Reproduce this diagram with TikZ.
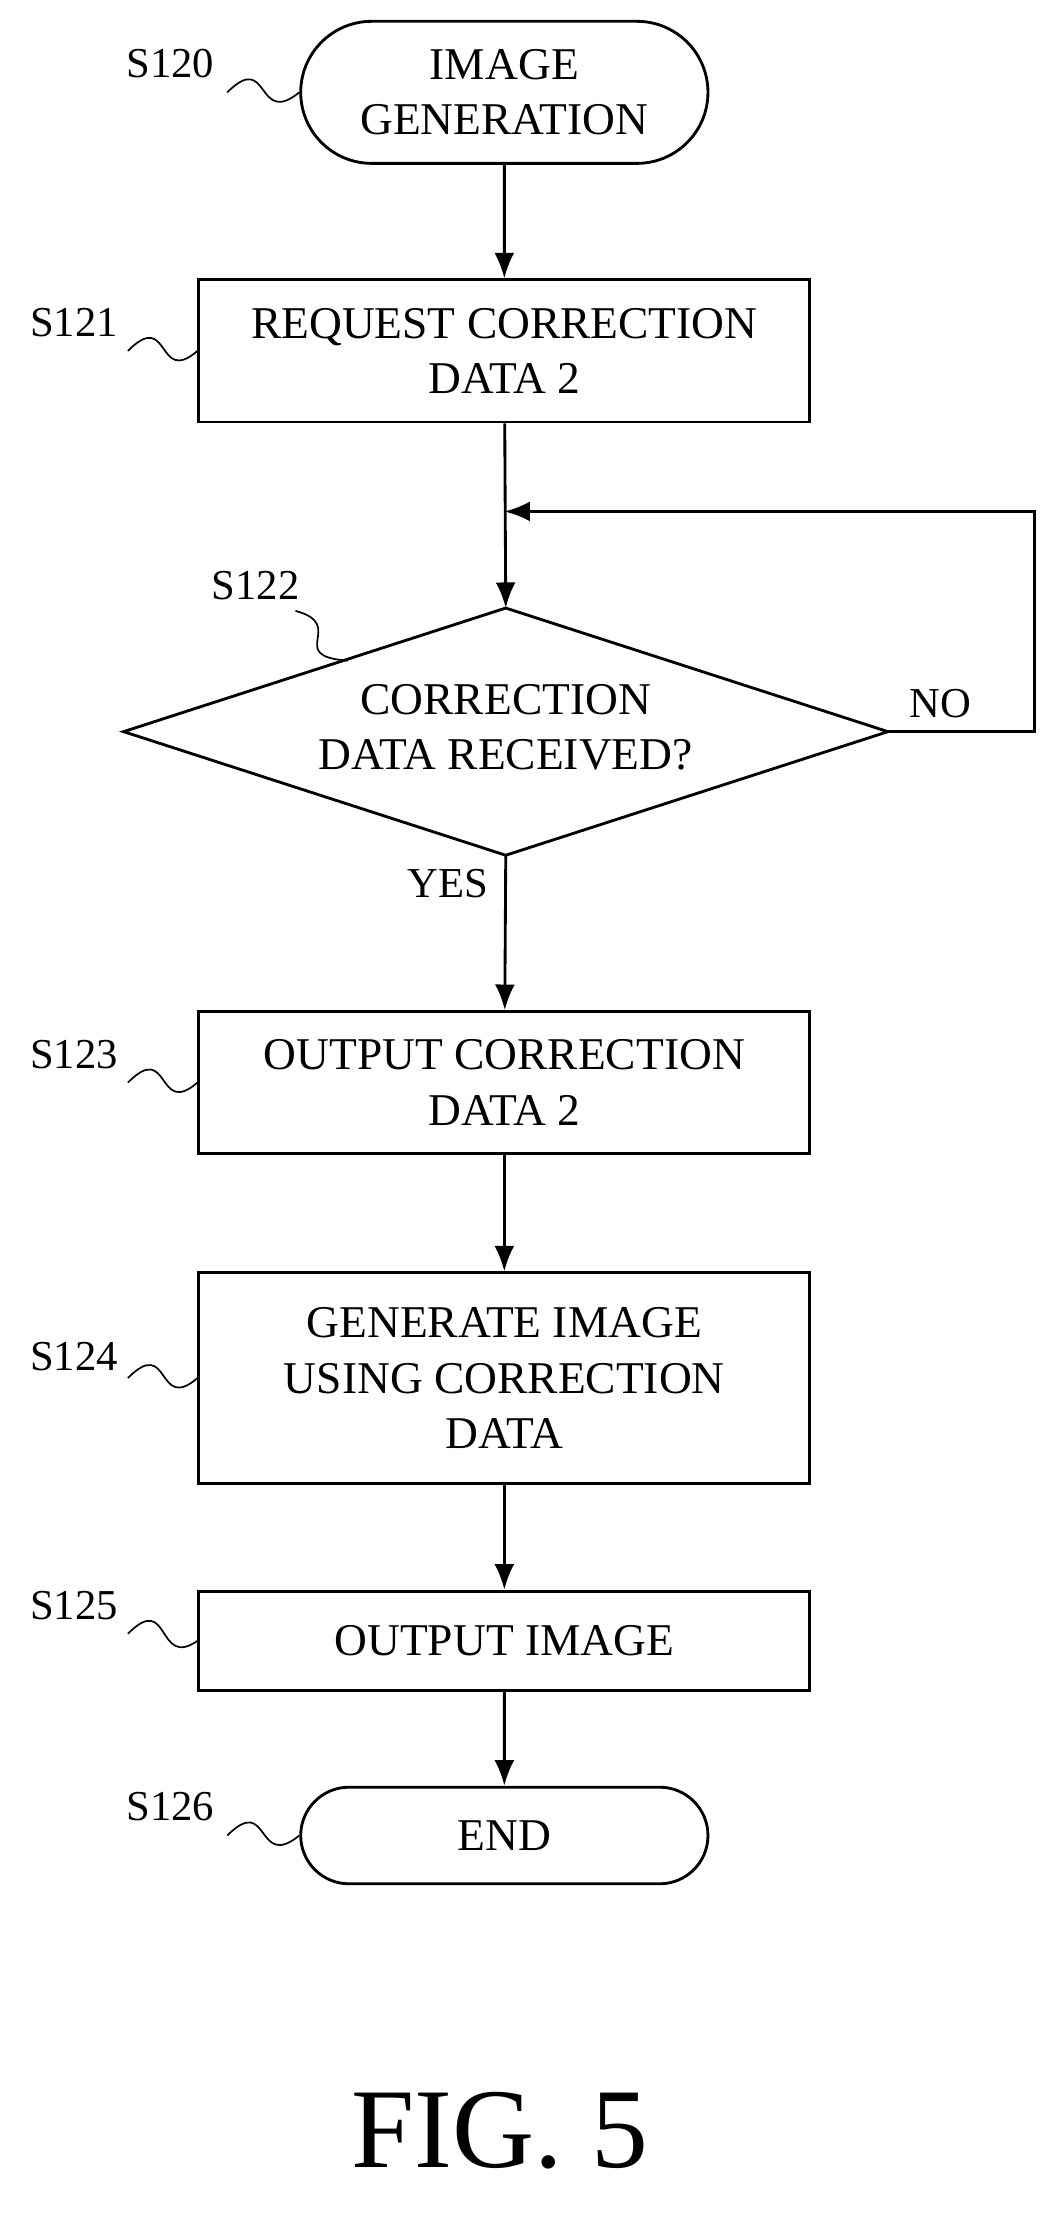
\documentclass[tikz,border=0pt]{standalone}
\usepackage{fontspec}
\setmainfont{Liberation Serif}
\usetikzlibrary{shapes.geometric,shapes.misc,positioning,arrows.meta}
\tikzset{
  proc/.style={draw,line width=1pt,minimum width=215pt,minimum height=50pt,align=center,font=\fontsize{16}{19.5}\selectfont},
  term/.style={draw,line width=1pt,rounded rectangle,minimum width=150pt,minimum height=34pt,align=center,font=\fontsize{16}{19.5}\selectfont},
  lbl/.style={font=\fontsize{15}{17}\selectfont},
  squig/.style={semithick},
  flow/.style={line width=1pt,-{Latex[length=9pt,width=7pt]}}
}
\begin{document}
\begin{tikzpicture}[x=0.5pt,y=-0.5pt]
    \useasboundingbox (0,0) rectangle (745,1569);

    % Steps
    \node[term,minimum height=50pt] (s120) at (355,65) {IMAGE\\GENERATION};
    \node[proc] (s121) at (355,247) {REQUEST CORRECTION\\DATA 2};
    \coordinate (dt) at (356,428);
    \coordinate (dl) at (87,515);
    \coordinate (db) at (356,602);
    \coordinate (dr) at (625,515);
    \draw[line width=1pt] (dt) -- (dr) -- (db) -- (dl) -- cycle;
    \node[align=center,font=\fontsize{16}{19.5}\selectfont] (s122) at (356,512) {CORRECTION\\DATA RECEIVED?};
    \node[proc] (s123) at (355,762) {OUTPUT CORRECTION\\DATA 2};
    \node[proc,minimum height=74pt] (s124) at (355,970) {GENERATE IMAGE\\USING CORRECTION\\DATA};
    \node[proc,minimum height=35pt] (s125) at (355,1155) {OUTPUT IMAGE};
    \node[term] (s126) at (355,1292) {END};

    % Connectors
    \coordinate (join) at (355,360);
    \coordinate (loop) at (728,360);
    \draw[flow] (s120) -- (s121);
    \draw[flow] (s121) -- (dt);
    \draw[flow] (dr) -| (loop) -- (join);
    \draw[flow] (db) -- (s123);
    \draw[flow] (s123) -- (s124);
    \draw[flow] (s124) -- (s125);
    \draw[flow] (s125) -- (s126);
    \node[lbl] (no) at (662,495) {NO};
    \node[lbl] (yes) at (315,622) {YES};

    % Step labels
    \node[lbl] (l120) at (120,45) {S120};
    \node[lbl] (l121) at (52,227) {S121};
    \node[lbl] (l122) at (180,412) {S122};
    \node[lbl] (l123) at (52,742) {S123};
    \node[lbl] (l124) at (52,955) {S124};
    \node[lbl] (l125) at (52,1130) {S125};
    \node[lbl] (l126) at (120,1272) {S126};
    \draw[squig] (160,65) .. controls (190,35) and (180,90) .. (s120.west);
    \draw[squig] (90,247) .. controls (120,217) and (110,272) .. (s121.west);
    \draw[squig] (208,430) .. controls (245,440) and (200,462) .. (245,465);
    \draw[squig] (90,762) .. controls (120,732) and (110,787) .. (s123.west);
    \draw[squig] (90,970) .. controls (120,940) and (110,995) .. (s124.west);
    \draw[squig] (90,1150) .. controls (120,1120) and (110,1175) .. (s125.west);
    \draw[squig] (160,1292) .. controls (190,1262) and (180,1317) .. (s126.west);

    \node[font=\fontsize{40}{44}\selectfont] (fig) at (352,1500) {FIG. 5};
\end{tikzpicture}
\end{document}
